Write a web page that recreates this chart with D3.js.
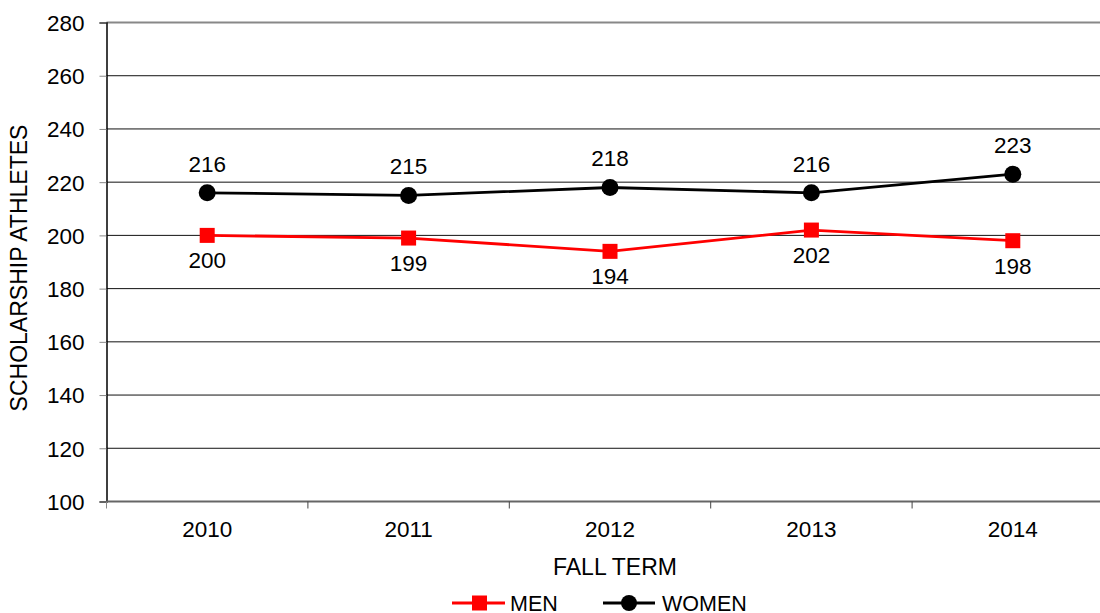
<!DOCTYPE html>
<html>
<head>
<meta charset="utf-8">
<script src="https://cdn.jsdelivr.net/npm/d3@7"></script>
<style>
  body { margin: 0; background: #fff; }
  text { font-family: "Liberation Sans", Arial, sans-serif; fill: #000; }
</style>
</head>
<body>
<div id="chart"></div>
<script>
// data
const years = ["2010", "2011", "2012", "2013", "2014"];
const men = [200, 199, 194, 202, 198];
const women = [216, 215, 218, 216, 223];
const yTicks = [100, 120, 140, 160, 180, 200, 220, 240, 260, 280];

const W = 1100, H = 613;
const margin = {left: 106.5, top: 22.5, right: -13.5, bottom: 111.5};
const fs = "22.5px";

const svg = d3.select("#chart").append("svg")
    .attr("width", W)
    .attr("height", H);

const x = d3.scaleBand()
    .domain(years)
    .range([margin.left, W - margin.right]);

const y = d3.scaleLinear()
    .domain([100, 280])
    .range([H - margin.bottom, margin.top]);

// gridlines
svg.append("g")
    .selectAll("line")
    .data(yTicks)
    .enter().append("line")
    .attr("x1", margin.left)
    .attr("x2", W)
    .attr("y1", d => y(d))
    .attr("y2", d => y(d))
    .attr("stroke", d => d == 280 ? "#888" : "#111")
    .attr("stroke-width", d => d == 280 ? 2 : 1);

// y axis
const yAxis = svg.append("g")
    .attr("transform", "translate(" + margin.left + ",0)")
    .call(d3.axisLeft(y).tickValues(yTicks).tickSize(7).tickPadding(15));
yAxis.select(".domain").attr("stroke", "#000").attr("stroke-width", 1.5);
yAxis.selectAll(".tick line").attr("stroke", "#888");
yAxis.selectAll("text").style("font-size", fs).attr("dy", "0.35em");

// x axis
const xAxis = svg.append("g")
    .attr("transform", "translate(0," + y(100) + ")");
xAxis.append("line")
    .attr("x1", margin.left).attr("x2", W)
    .attr("stroke", "#666").attr("stroke-width", 2);
xAxis.selectAll(".xt")
    .data(years)
    .enter().append("line")
    .attr("x1", d => x(d) + x.bandwidth())
    .attr("x2", d => x(d) + x.bandwidth())
    .attr("y1", 0).attr("y2", 7)
    .attr("stroke", "#444");
xAxis.append("line")
    .attr("x1", margin.left).attr("x2", margin.left)
    .attr("y1", 0).attr("y2", 7).attr("stroke", "#888");
xAxis.selectAll("text.yr")
    .data(years)
    .enter().append("text")
    .attr("x", d => x(d) + x.bandwidth() / 2)
    .attr("y", 35.5)
    .attr("text-anchor", "middle")
    .style("font-size", fs)
    .text(d => d);

// axis titles
svg.append("text")
    .attr("x", 615).attr("y", 575)
    .attr("text-anchor", "middle")
    .style("font-size", "23px")
    .text("FALL TERM");
svg.append("text")
    .attr("transform", "translate(27," + 268 + ") rotate(-90)")
    .attr("text-anchor", "middle")
    .style("font-size", "23px")
    .text("SCHOLARSHIP ATHLETES");

const cx = d => x(d) + x.bandwidth() / 2;
const line = d3.line()
    .x((d, i) => cx(years[i]))
    .y(d => y(d));

// men series
svg.append("path")
    .datum(men)
    .attr("d", line)
    .attr("fill", "none")
    .attr("stroke", "#ff0000")
    .attr("stroke-width", 2.8);
svg.selectAll("rect.men")
    .data(men)
    .enter().append("rect")
    .attr("x", (d, i) => cx(years[i]) - 7.5)
    .attr("y", d => y(d) - 7.5)
    .attr("width", 15).attr("height", 15)
    .attr("fill", "#ff0000");
svg.selectAll("text.menl")
    .data(men)
    .enter().append("text")
    .attr("x", (d, i) => cx(years[i]))
    .attr("y", d => y(d) + 33)
    .attr("text-anchor", "middle")
    .style("font-size", fs)
    .text(d => d);

// women series
svg.append("path")
    .datum(women)
    .attr("d", line)
    .attr("fill", "none")
    .attr("stroke", "#000")
    .attr("stroke-width", 2.8);
svg.selectAll("circle.women")
    .data(women)
    .enter().append("circle")
    .attr("cx", (d, i) => cx(years[i]))
    .attr("cy", d => y(d))
    .attr("r", 8.5)
    .attr("fill", "#000");
svg.selectAll("text.womenl")
    .data(women)
    .enter().append("text")
    .attr("x", (d, i) => cx(years[i]))
    .attr("y", d => y(d) - 21)
    .attr("text-anchor", "middle")
    .style("font-size", fs)
    .text(d => d);

// legend
const lg = svg.append("g").attr("transform", "translate(0,603)");
lg.append("line").attr("x1", 452).attr("x2", 505)
    .attr("stroke", "#ff0000").attr("stroke-width", 2.8);
lg.append("rect").attr("x", 472).attr("y", -7.5).attr("width", 15).attr("height", 15)
    .attr("fill", "#ff0000");
lg.append("text").attr("x", 510).attr("y", 8).style("font-size", "21.5px").text("MEN");
lg.append("line").attr("x1", 603).attr("x2", 655)
    .attr("stroke", "#000").attr("stroke-width", 2.8);
lg.append("circle").attr("cx", 629).attr("cy", 0).attr("r", 8).attr("fill", "#000");
lg.append("text").attr("x", 662).attr("y", 8).style("font-size", "21.5px").text("WOMEN");
</script>
</body>
</html>
